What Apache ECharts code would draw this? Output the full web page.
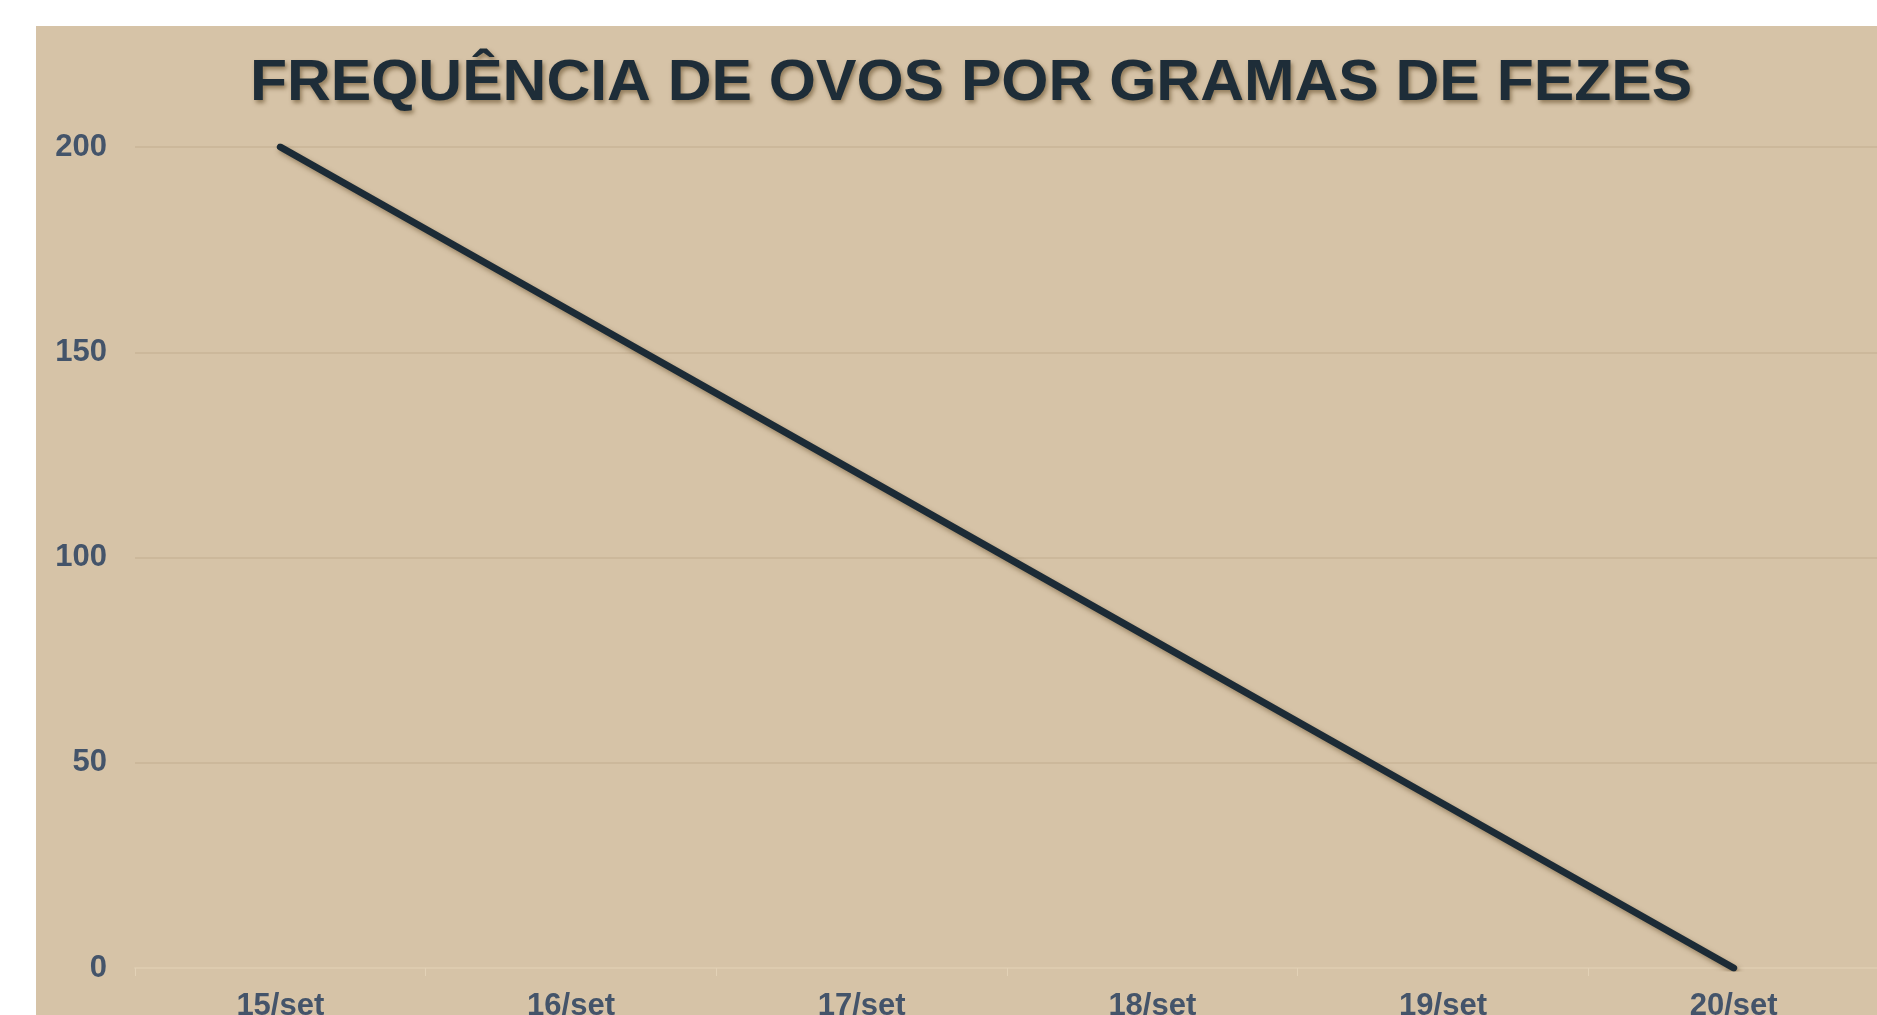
<!DOCTYPE html>
<html>
<head>
<meta charset="utf-8">
<script src="https://cdn.jsdelivr.net/npm/echarts@6/dist/echarts.min.js"></script>
<style>
html,body{margin:0;padding:0;background:#ffffff;width:1877px;height:1015px;overflow:hidden;}
#chart{position:absolute;left:36px;top:26px;width:1841px;height:989px;}
</style>
</head>
<body>
<div id="chart"></div>
<script>
const titleText = 'FREQUÊNCIA DE OVOS POR GRAMAS DE FEZES';
const categories = ['15/set', '16/set', '17/set', '18/set', '19/set', '20/set'];
const opgValues = [200, 160, 120, 80, 40, 0];
const yTicks = [0, 50, 100, 150, 200];

const chart = echarts.init(document.getElementById('chart'), null, {renderer: 'canvas'});
chart.setOption({
  backgroundColor: '#d6c3a7',
  animation: false,
  graphic: [{
    type: 'text',
    x: 935,
    y: 58,
    scaleX: 1.064,
    z: 10,
    style: {
      text: titleText,
      fontFamily: 'Liberation Sans, Arial, sans-serif',
      fontSize: 57,
      fontWeight: 'bold',
      fill: '#1e2d38',
      align: 'center',
      verticalAlign: 'middle',
      textShadowColor: 'rgba(90,65,30,0.55)',
      textShadowBlur: 4,
      textShadowOffsetX: 2,
      textShadowOffsetY: 3
    }
  }],
  grid: {left: 99, right: -2, top: 121, bottom: 47, containLabel: false, outerBoundsMode: 'none'},
  xAxis: {
    type: 'category',
    data: categories,
    boundaryGap: true,
    axisLine: {show: true, lineStyle: {color: '#e2d1b6', width: 1.5}},
    axisTick: {show: true, length: 8, lineStyle: {color: '#e2d1b6'}},
    axisLabel: {
      margin: 23,
      fontFamily: 'Liberation Sans, Arial, sans-serif',
      fontSize: 31,
      fontWeight: 'bold',
      color: '#44546a'
    }
  },
  yAxis: {
    type: 'value',
    min: yTicks[0],
    max: yTicks[yTicks.length - 1],
    interval: 50,
    axisLine: {show: false},
    axisTick: {show: false},
    splitLine: {show: true, lineStyle: {color: '#c8b597', width: 1.5}},
    axisLabel: {
      margin: 28,
      fontFamily: 'Liberation Sans, Arial, sans-serif',
      fontSize: 31,
      fontWeight: 'bold',
      color: '#44546a'
    }
  },
  series: [{
    type: 'line',
    data: opgValues,
    symbol: 'none',
    smooth: false,
    lineStyle: {
      color: '#1c2b36',
      width: 7,
      cap: 'round',
      join: 'round',
      shadowColor: 'rgba(90,65,30,0.5)',
      shadowBlur: 5,
      shadowOffsetX: 2,
      shadowOffsetY: 3
    },
    z: 5
  }]
});
</script>
</body>
</html>
